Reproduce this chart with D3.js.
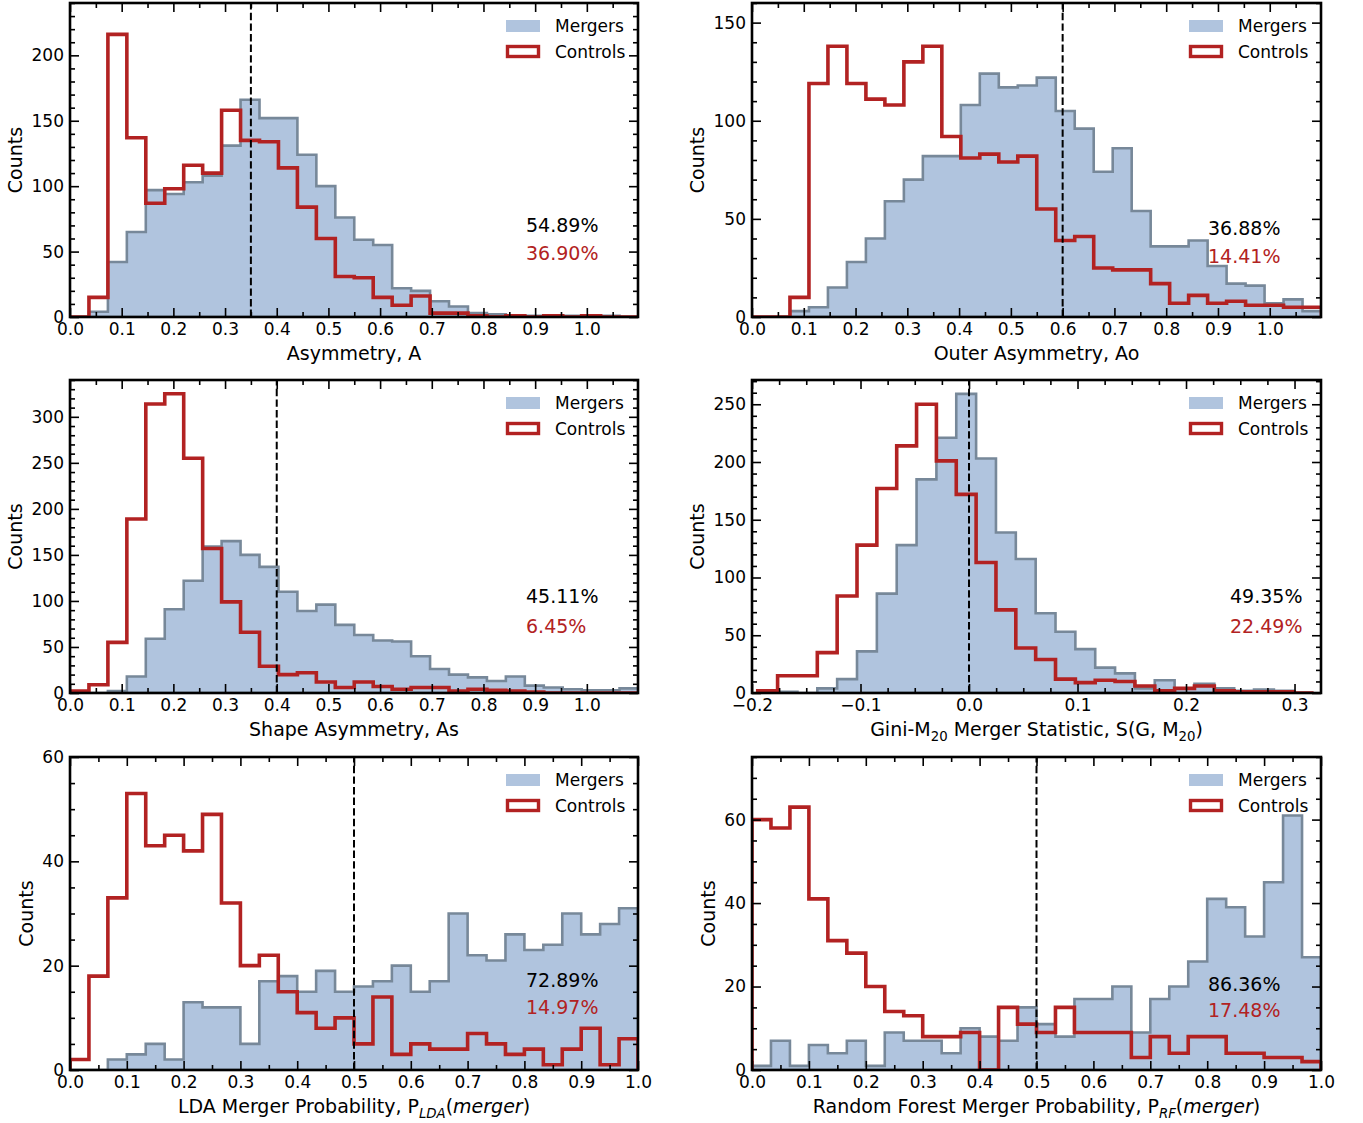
<!DOCTYPE html>
<html>
<head>
<meta charset="utf-8">
<script src="https://cdn.jsdelivr.net/npm/d3@7"></script>
<style>
  body { margin: 0; background: #fff; }
  svg { display: block; }
  text { font-family: "DejaVu Sans", sans-serif; }
</style>
</head>
<body>
<svg id="fig" width="1363" height="1123"></svg>
<script>
// ---------------- data: histogram counts per bin ----------------
// Asymmetry A (30 bins on [0, 1.1])
const asymMergers  = [0, 4, 42, 65, 97, 94, 103, 108, 131, 166, 152, 152, 124, 100, 76, 59, 55, 22, 20, 12, 8, 3, 2, 1, 1, 0, 1, 0, 1, 0];
const asymControls = [0, 15, 216, 137, 87, 98, 116, 110, 158, 135, 134, 114, 84, 60, 31, 30, 15, 9, 16, 3, 3, 1, 0, 1, 0, 1, 0, 1, 0, 0];

// Outer asymmetry Ao (30 bins on [0, 1.1])
const outerMergers  = [0, 0, 3, 5, 15, 28, 40, 59, 70, 82, 82, 108, 124, 117, 118, 122, 105, 96, 74, 86, 54, 36, 36, 39, 26, 17, 16, 7, 9, 3];
const outerControls = [0, 0, 10, 119, 138, 119, 111, 108, 130, 138, 92, 81, 83, 79, 82, 55, 39, 41, 25, 24, 24, 17, 7, 11, 7, 8, 6, 6, 5, 5];

// Shape asymmetry As (30 bins on [0, 1.1])
const shapeMergers  = [0, 0, 2, 18, 59, 91, 122, 159, 165, 150, 137, 110, 89, 96, 74, 63, 57, 56, 40, 26, 20, 17, 13, 18, 8, 6, 4, 3, 3, 5];
const shapeControls = [2, 9, 55, 189, 314, 325, 255, 157, 99, 66, 29, 20, 22, 12, 6, 12, 7, 4, 6, 6, 2, 4, 3, 2, 1, 0, 0, 0, 0, 0];

// Gini-M20 statistic S(G, M20) (28 bins starting at -0.1947)
const giniMergers  = [0, 1, 0, 4, 12, 36, 86, 128, 185, 221, 259, 203, 139, 116, 69, 53, 38, 22, 17, 4, 11, 4, 8, 4, 2, 3, 2, 0];
const giniControls = [2, 15, 15, 35, 84, 128, 177, 214, 250, 201, 172, 113, 72, 39, 29, 12, 9, 11, 10, 6, 2, 4, 6, 2, 1, 1, 1, 0];

// LDA merger probability (30 bins on [0, 1])
const ldaMergers  = [0, 0, 2, 3, 5, 2, 13, 12, 12, 5, 17, 18, 15, 19, 15, 16, 17, 20, 15, 17, 30, 22, 21, 26, 23, 24, 30, 26, 28, 31];
const ldaControls = [2, 18, 33, 53, 43, 45, 42, 49, 32, 20, 22, 15, 11, 8, 10, 5, 14, 3, 5, 4, 4, 7, 5, 3, 4, 1, 4, 8, 1, 6];

// Random forest merger probability (30 bins on [0, 1])
const rfMergers  = [1, 7, 1, 6, 4, 7, 1, 9, 7, 7, 4, 10, 8, 7, 15, 11, 8, 17, 17, 20, 9, 17, 20, 26, 41, 39, 32, 45, 61, 27];
const rfControls = [60, 58, 63, 41, 31, 28, 20, 14, 13, 8, 8, 9, 0, 15, 11, 9, 15, 9, 9, 9, 3, 8, 4, 8, 8, 4, 4, 3, 3, 2];

// Fractions above each threshold
const mergerPercents  = ["54.89%", "36.88%", "45.11%", "49.35%", "72.89%", "86.36%"];
const controlPercents = ["36.90%", "14.41%", "6.45%", "22.49%", "14.97%", "17.48%"];
const thresholds = [0.35, 0.6, 0.4, 0.0, 0.5, 0.5];

// Axis tick values
const asymXTicks = d3.range(0, 11).map(i => i / 10);
const giniXTicks = [-0.2, -0.1, 0.0, 0.1, 0.2, 0.3];
const probXTicks = d3.range(0, 11).map(i => i / 10);
const legendLabels = ["Mergers", "Controls"];

// ---------------- styling ----------------
const MERGER_FILL = "#b0c4de";
const MERGER_EDGE = "#778899";
const CONTROL_RED = "#b22222";
const FONT = "DejaVu Sans";

const svg = d3.select("#fig");

const panels = [
  { mergers: asymMergers, controls: asymControls, binStart: 0, binWidth: 1.1 / 30,
    xDomain: [0, 1.099], yMax: 240, xMajor: asymXTicks, xMinorStep: 0.05,
    yMajorStep: 50, yMinorStep: 10,
    box: { left: 70, right: 638, top: 3, bottom: 317 },
    xlabel: [{ t: "Asymmetry, A" }], ylabelX: 21.5, pctX: 526, pctDy: [-85, -57] },
  { mergers: outerMergers, controls: outerControls, binStart: 0, binWidth: 1.1 / 30,
    xDomain: [0, 1.099], yMax: 160, xMajor: asymXTicks, xMinorStep: 0.05,
    yMajorStep: 50, yMinorStep: 10,
    box: { left: 752, right: 1321, top: 3, bottom: 317 },
    xlabel: [{ t: "Outer Asymmetry, Ao" }], ylabelX: 704, pctX: 1208, pctDy: [-82, -54] },
  { mergers: shapeMergers, controls: shapeControls, binStart: 0, binWidth: 1.1 / 30,
    xDomain: [0, 1.099], yMax: 340, xMajor: asymXTicks, xMinorStep: 0.05,
    yMajorStep: 50, yMinorStep: 10,
    box: { left: 70, right: 638, top: 380, bottom: 693 },
    xlabel: [{ t: "Shape Asymmetry, As" }], ylabelX: 21.5, pctX: 526, pctDy: [-90, -60] },
  { mergers: giniMergers, controls: giniControls, binStart: -0.1947, binWidth: 0.018295,
    xDomain: [-0.2, 0.3244], yMax: 271, xMajor: giniXTicks, xMinorStep: 0.025,
    yMajorStep: 50, yMinorStep: 10,
    box: { left: 752, right: 1321, top: 380, bottom: 693 },
    xlabel: [{ t: "Gini-M" }, { t: "20", sub: true }, { t: " Merger Statistic, S(G, M" }, { t: "20", sub: true }, { t: ")" }],
    ylabelX: 704, pctX: 1230, pctDy: [-90, -60] },
  { mergers: ldaMergers, controls: ldaControls, binStart: 0, binWidth: 1 / 30,
    xDomain: [0, 1], yMax: 60, xMajor: probXTicks, xMinorStep: 0.05,
    yMajorStep: 20, yMinorStep: 5,
    box: { left: 70, right: 638, top: 757, bottom: 1070 },
    xlabel: [{ t: "LDA Merger Probability, P" }, { t: "LDA", sub: true, it: true }, { t: "(" }, { t: "merger", it: true }, { t: ")" }],
    ylabelX: 33, pctX: 526, pctDy: [-83, -56] },
  { mergers: rfMergers, controls: rfControls, binStart: 0, binWidth: 1 / 30,
    xDomain: [0, 1], yMax: 75, xMajor: probXTicks, xMinorStep: 0.05,
    yMajorStep: 20, yMinorStep: 5,
    box: { left: 752, right: 1321, top: 757, bottom: 1070 },
    xlabel: [{ t: "Random Forest Merger Probability, P" }, { t: "RF", sub: true, it: true }, { t: "(" }, { t: "merger", it: true }, { t: ")" }],
    ylabelX: 715, pctX: 1208, pctDy: [-79, -53] }
];

const fmtX = v => d3.format(".1f")(v).replace("-", "\u2212");

// outline of a step histogram, closed down to zero at both ends
function stepPoints(counts, start, width) {
  const pts = [[start, 0]];
  counts.forEach((c, i) => {
    pts.push([start + i * width, c]);
    pts.push([start + (i + 1) * width, c]);
  });
  pts.push([start + counts.length * width, 0]);
  return pts;
}

function styleAxis(sel, labelled) {
  sel.select(".domain").remove();
  sel.selectAll(".tick line").attr("stroke", "#000").attr("stroke-width", 1.6);
  if (labelled) {
    sel.selectAll(".tick text").attr("font-size", 17).attr("font-family", FONT).attr("fill", "#000");
  } else {
    sel.selectAll(".tick text").remove();
  }
}

function minorValues(lo, hi, step, majors) {
  const n0 = Math.ceil(lo / step - 1e-6), n1 = Math.floor(hi / step + 1e-6);
  const out = [];
  for (let n = n0; n <= n1; n++) {
    const v = +(n * step).toFixed(6);
    if (!majors.some(m => Math.abs(m - v) < 1e-6)) out.push(v);
  }
  return out;
}

panels.forEach((p, idx) => {
  const b = p.box;
  const x = d3.scaleLinear().domain(p.xDomain).range([b.left, b.right]);
  const y = d3.scaleLinear().domain([0, p.yMax]).range([b.bottom, b.top]);
  const g = svg.append("g");

  const clipId = "clip" + idx;
  svg.append("clipPath").attr("id", clipId)
    .append("rect").attr("x", b.left).attr("y", b.top)
    .attr("width", b.right - b.left).attr("height", b.bottom - b.top);

  const plot = g.append("g").attr("clip-path", `url(#${clipId})`);
  const line = d3.line().x(d => x(d[0])).y(d => y(d[1]));

  // mergers: filled step histogram with darker edge
  const mPts = stepPoints(p.mergers, p.binStart, p.binWidth);
  plot.append("path").attr("d", line(mPts) + "Z")
    .attr("fill", MERGER_FILL).attr("stroke", MERGER_EDGE)
    .attr("stroke-width", 2.6).attr("stroke-linejoin", "miter");

  // controls: open red step histogram
  const cPts = stepPoints(p.controls, p.binStart, p.binWidth);
  plot.append("path").attr("d", line(cPts))
    .attr("fill", "none").attr("stroke", CONTROL_RED)
    .attr("stroke-width", 3.6).attr("stroke-linejoin", "miter");

  // threshold
  plot.append("line")
    .attr("x1", x(thresholds[idx])).attr("x2", x(thresholds[idx]))
    .attr("y1", b.bottom).attr("y2", b.top)
    .attr("stroke", "#000").attr("stroke-width", 2).attr("stroke-dasharray", "7.4,3.2");

  // ticks on all four sides, pointing inward
  const xMinor = minorValues(p.xDomain[0], p.xDomain[1], p.xMinorStep, p.xMajor);
  const yMajor = d3.range(0, p.yMax + 1e-6, p.yMajorStep);
  const yMinor = minorValues(0, p.yMax, p.yMinorStep, yMajor);

  const axes = [
    [d3.axisBottom(x), `translate(0,${b.bottom})`, p.xMajor, 9, true, fmtX],
    [d3.axisBottom(x), `translate(0,${b.bottom})`, xMinor, 5, false],
    [d3.axisTop(x), `translate(0,${b.top})`, p.xMajor, 9, false],
    [d3.axisTop(x), `translate(0,${b.top})`, xMinor, 5, false],
    [d3.axisLeft(y), `translate(${b.left},0)`, yMajor, 9, true, d3.format("d")],
    [d3.axisLeft(y), `translate(${b.left},0)`, yMinor, 5, false],
    [d3.axisRight(y), `translate(${b.right},0)`, yMajor, 9, false],
    [d3.axisRight(y), `translate(${b.right},0)`, yMinor, 5, false]
  ];
  axes.forEach(([ax, tr, vals, len, lab, fmt]) => {
    ax.tickValues(vals).tickSizeInner(-len).tickSizeOuter(0).tickPadding(6);
    if (fmt) ax.tickFormat(fmt);
    const s = g.append("g").attr("transform", tr).call(ax);
    styleAxis(s, lab);
  });

  // legend
  const lx = b.right - 132, ly = b.top;
  g.append("rect").attr("x", lx).attr("y", ly + 17).attr("width", 34).attr("height", 12)
    .attr("fill", MERGER_FILL);
  g.append("rect").attr("x", lx + 1.5).attr("y", ly + 43.5).attr("width", 31).attr("height", 10)
    .attr("fill", "#fff").attr("stroke", CONTROL_RED).attr("stroke-width", 3.4);
  g.append("text").attr("x", b.right - 83).attr("y", ly + 29)
    .attr("font-size", 17).attr("fill", "#000").text(legendLabels[0]);
  g.append("text").attr("x", b.right - 83).attr("y", ly + 54.5)
    .attr("font-size", 17).attr("fill", "#000").text(legendLabels[1]);

  // fractions beyond the threshold
  g.append("text").attr("x", p.pctX).attr("y", b.bottom + p.pctDy[0])
    .attr("font-size", 19).attr("fill", "#000").text(mergerPercents[idx]);
  g.append("text").attr("x", p.pctX).attr("y", b.bottom + p.pctDy[1])
    .attr("font-size", 19).attr("fill", CONTROL_RED).text(controlPercents[idx]);

  // axis labels
  const xl = g.append("text").attr("x", (b.left + b.right) / 2).attr("y", b.bottom + 43)
    .attr("text-anchor", "middle").attr("font-size", 19).attr("fill", "#000");
  p.xlabel.forEach((seg, i) => {
    const ts = xl.append("tspan").text(seg.t);
    if (seg.it) ts.attr("font-style", "italic");
    if (seg.sub) ts.attr("font-size", 13.3).attr("dy", 4.5);
    const prev = p.xlabel[i - 1];
    if (prev && prev.sub && !seg.sub) ts.attr("dy", -4.5);
  });

  g.append("text")
    .attr("transform", `translate(${p.ylabelX},${(b.top + b.bottom) / 2}) rotate(-90)`)
    .attr("text-anchor", "middle").attr("font-size", 19).attr("fill", "#000").text("Counts");

  // frame
  g.append("rect").attr("x", b.left).attr("y", b.top)
    .attr("width", b.right - b.left).attr("height", b.bottom - b.top)
    .attr("fill", "none").attr("stroke", "#000").attr("stroke-width", 2.6);
});
</script>
</body>
</html>
